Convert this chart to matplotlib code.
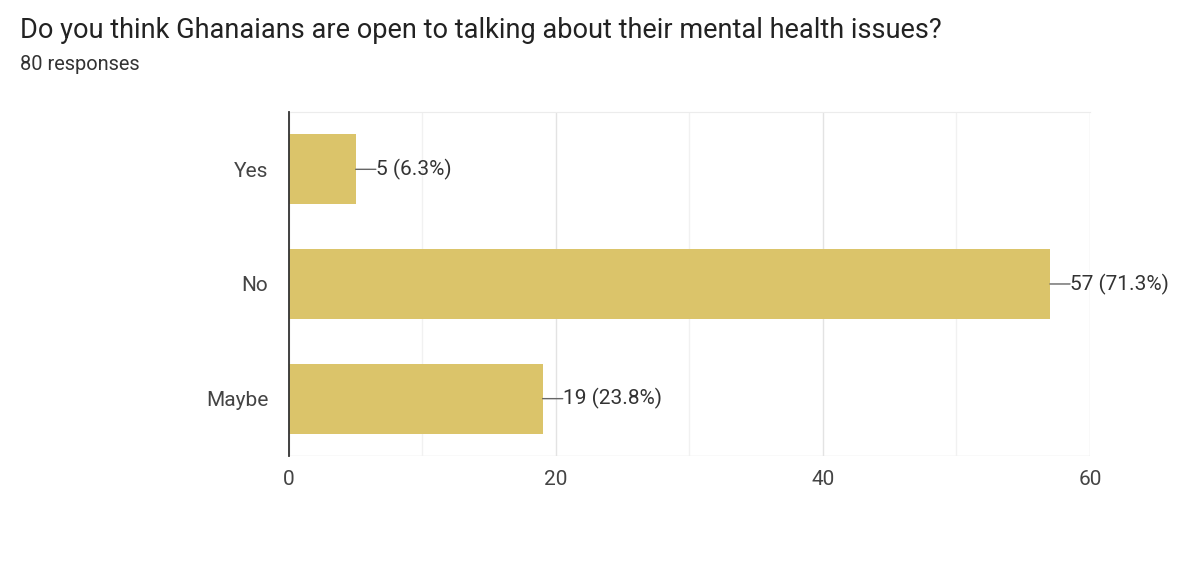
import matplotlib
matplotlib.use("Agg")
import matplotlib.pyplot as plt
from matplotlib.ticker import MultipleLocator

categories = ["Yes", "No", "Maybe"]
counts = [5, 57, 19]
pct_labels = ["5 (6.3%)", "57 (71.3%)", "19 (23.8%)"]
title = "Do you think Ghanaians are open to talking about their mental health issues?"
subtitle = "80 responses"

plt.rcParams['font.family'] = ['Roboto', 'DejaVu Sans']

fig = plt.figure(figsize=(12, 5.67), dpi=100)
ax = fig.add_axes([0.2408, 0.1958, 0.9083 - 0.2408, 0.8025 - 0.1958])

y = list(range(len(categories)))
ax.barh(y, counts, height=0.61, color="#DBC46A", zorder=3)
ax.set_ylim(2.5, -0.5)
ax.set_xlim(0, 60)
ax.set_yticks(y)
ax.set_yticklabels(categories)
ax.xaxis.set_major_locator(MultipleLocator(20))
ax.xaxis.set_minor_locator(MultipleLocator(10))
ax.grid(axis='x', which='major', color='#e3e3e3', linewidth=1, zorder=0)
ax.grid(axis='x', which='minor', color='#f1f1f1', linewidth=1, zorder=0)
ax.tick_params(axis='both', which='both', length=0, labelsize=15, labelcolor='#444444')
ax.tick_params(axis='x', pad=10)
ax.tick_params(axis='y', pad=15)
for s in ['right', 'bottom']:
    ax.spines[s].set_visible(False)
ax.spines['top'].set_color('#ececec')
ax.spines['left'].set_color('#333333')
ax.spines['left'].set_linewidth(1.3)
ax.spines['left'].set_zorder(5)
ax.axhline(2.5, color='#e3e3e3', linewidth=1, zorder=1)

for yi, c, lab in zip(y, counts, pct_labels):
    ax.annotate("", xy=(c, yi), xytext=(14.5, 0), textcoords='offset points',
                arrowprops=dict(arrowstyle='-', color='#666666', lw=1, shrinkA=0, shrinkB=0))
    ax.annotate(lab, xy=(c, yi), xytext=(14.5, 0), textcoords='offset points',
                va='center', ha='left', fontsize=15, color='#333333')

fig.text(20/1200, 1 - 30/567, title, fontsize=19.5, color='#222222', va='center', ha='left')
fig.text(20/1200, 1 - 65/567, subtitle, fontsize=14.4, color='#333333', va='center', ha='left')

fig.savefig("out.png", dpi=100, facecolor='white')
